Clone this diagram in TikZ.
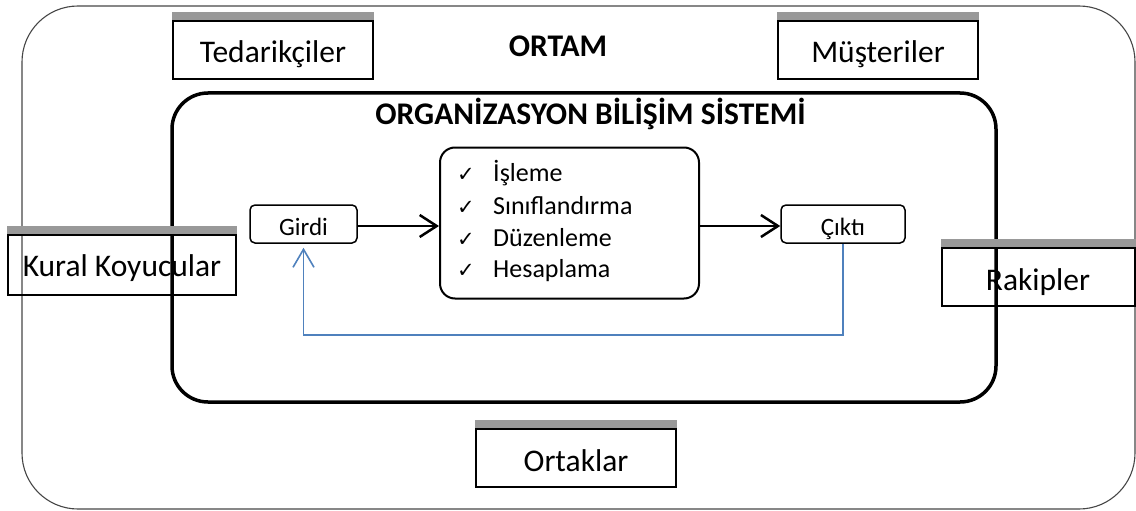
\documentclass[tikz,border=0pt]{standalone}
\usepackage{fontspec}
\setmainfont{Carlito}
\newfontfamily\symfont{DejaVu Sans}
\usetikzlibrary{arrows.meta}
\definecolor{barfill}{RGB}{153,153,153}
\definecolor{loopblue}{RGB}{79,129,189}
\definecolor{framegray}{RGB}{70,70,70}
\newcommand{\bigtext}{\fontsize{31.5}{36}\selectfont}
\newcommand{\smalltext}{\fontsize{25}{30}\selectfont}
\newcommand{\itemtext}{\fontsize{26}{30}\selectfont}
\newcommand{\checkitem}[1]{\makebox[36pt][l]{\symfont\fontsize{21}{21}\selectfont ✓}#1}
\tikzset{
  envbox/.style={draw, line width=2pt, inner sep=0pt, minimum width=200pt, minimum height=58pt,
    text height=26pt, text depth=0pt, font=\bigtext},
  bar/.style={fill=barfill},
  flowbox/.style={draw, line width=1.5pt, rounded corners=5pt, inner sep=0pt, minimum height=38pt,
    text height=22pt, text depth=0pt, font=\smalltext},
  item/.style={anchor=base west, inner sep=0pt, font=\itemtext},
  mainflow/.style={line width=2.5pt, -{Straight Barb[length=17pt,width=22pt,line width=2.5pt]}},
  feedback/.style={draw=loopblue, line width=1.6pt, -{Straight Barb[length=18pt,width=21pt,line width=1.6pt]}},
}
\begin{document}
\begin{tikzpicture}[x=1pt, y=-1pt]
  \useasboundingbox (0,0) rectangle (1136,511);

  % environment frame and organisation frame
  \node[draw=framegray, line width=1.1pt, rounded corners=56pt, minimum width=1113pt, minimum height=503pt, inner sep=0pt] (frame) at (578.5,257.5) {};
  \node[draw, line width=3.5pt, rounded corners=36pt, minimum width=824pt, minimum height=309pt, inner sep=0pt] (org) at (584,247.5) {};

  % titles
  \node[font=\bigtext\bfseries, inner sep=0pt] (ortam) at (558,46) {ORTAM};
  \node[font=\bigtext\bfseries, inner sep=0pt] (orgtitle) at (590.5,114) {ORGANİZASYON BİLİŞİM SİSTEMİ};

  % environment actors, each with a grey bar on top
  \node[envbox] (ted) at (273,50) {Tedarikçiler};
  \node[envbox] (mus) at (878,50) {Müşteriler};
  \node[envbox, minimum width=228pt, minimum height=60pt, text height=23pt] (kural) at (122,265) {Kural Koyucular};
  \node[envbox, minimum width=193pt] (rak) at (1038,277) {Rakipler};
  \node[envbox] (ort) at (576,458) {Ortaklar};
  \foreach \b in {ted,mus,kural,rak,ort}
    \fill[bar] (\b.north west) rectangle ([yshift=8pt]\b.north east);

  % input, process, output
  \node[flowbox, minimum width=107pt] (girdi) at (303.5,224) {Girdi};
  \node[draw, line width=2pt, rounded corners=15pt, minimum width=259pt, minimum height=151pt, inner sep=0pt] (proc) at (569.5,223) {};
  \node[flowbox, minimum width=124pt] (cikti) at (843,224) {Çıktı};

  \node[item] (i1) at (457,181.5) {\checkitem{İşleme}};
  \node[item] (i2) at (457,214) {\checkitem{Sınıflandırma}};
  \node[item] (i3) at (457,246) {\checkitem{Düzenleme}};
  \node[item] (i4) at (457,277.5) {\checkitem{Hesaplama}};

  % connectors
  \draw[mainflow] ([yshift=-2pt]girdi.east) -- ([yshift=-2pt]girdi.east -| proc.west);
  \draw[mainflow] ([yshift=-2pt]proc.east |- cikti.west) -- ([yshift=-2pt]cikti.west);
  \draw[feedback, shorten >=4pt] (cikti.south) -- ++(0,91) -| (girdi.south);
\end{tikzpicture}
\end{document}
